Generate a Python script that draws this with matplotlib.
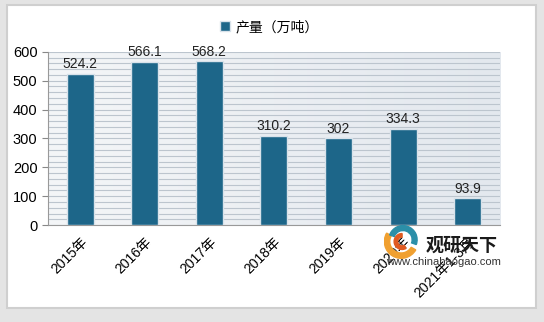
import matplotlib
matplotlib.use("Agg")
import matplotlib.pyplot as plt
from matplotlib.patches import Rectangle, Wedge
from matplotlib.ticker import MultipleLocator
import numpy as np

plt.rcParams['font.family'] = ['Liberation Sans', 'Noto Sans CJK SC', 'DejaVu Sans']

years = ['2015年', '2016年', '2017年', '2018年', '2019年', '2020年', '2021年1-3月']
output = [524.2, 566.1, 568.2, 310.2, 302, 334.3, 93.9]
series_name = '产量（万吨）'

bar_color = '#1d6689'

fig = plt.figure(figsize=(5.44, 3.22), dpi=100)
fig.patch.set_facecolor('#e4e4e4')

# white card with soft border
fig.patches.append(Rectangle((0.012, 0.045), 0.974, 0.94, transform=fig.transFigure,
                             facecolor='white', edgecolor='#cfcfcf', linewidth=1.5, zorder=-1))

ax = fig.add_axes([0.088, 0.301, 0.831, 0.538])
ax.set_zorder(2)
ax.patch.set_alpha(0)

# light gradient background
grad = np.linspace(0, 1, 256).reshape(1, -1)
bg = matplotlib.colors.LinearSegmentedColormap.from_list('bg', ['#f4f6f8', '#e3e8ee'])
ax.imshow(grad, extent=[-0.5, 6.5, 0, 600], aspect='auto', cmap=bg, zorder=0)

x = np.arange(len(years))
bars = ax.bar(x, output, width=0.42, color=bar_color, edgecolor='#d8e2ea', linewidth=1.0, zorder=3,
              label=series_name)

for xi, v in zip(x, output):
    ax.text(xi, v + 8, f'{v:g}', ha='center', va='bottom', fontsize=10, color='#222222', zorder=4)

ax.set_xlim(-0.5, 6.5)
ax.set_ylim(0, 600)
ax.yaxis.set_major_locator(MultipleLocator(100))
ax.yaxis.set_minor_locator(MultipleLocator(20))
ax.grid(axis='y', which='both', color='#bcc5ce', linewidth=0.8, zorder=1)
ax.set_axisbelow(True)

ax.set_xticks(x)
ax.set_xticklabels(years, rotation=45, ha='right', rotation_mode='anchor', fontsize=10)
ax.tick_params(axis='x', length=0, pad=7)
ax.tick_params(axis='y', which='major', length=4, color='#888888', labelsize=10.5)
ax.tick_params(axis='y', which='minor', length=0)

for side in ['top', 'right']:
    ax.spines[side].set_visible(False)
ax.spines['left'].set_color('#999999')
ax.spines['bottom'].set_color('#999999')

ax.legend(loc='lower center', bbox_to_anchor=(0.49, 1.03), frameon=False, fontsize=10,
          handlelength=0.7, handleheight=0.7, handletextpad=0.4)

# watermark logo
lax = fig.add_axes([0.705, 0.195, 0.065, 0.11])
lax.set_zorder(6)
lax.set_xlim(-1, 1)
lax.set_ylim(-1, 1)
lax.set_aspect('equal')
lax.axis('off')
lax.add_patch(Wedge((0.0, 0.0), 0.95, 150, 330, width=0.3, color='#f0a030'))
lax.add_patch(Wedge((0.1, 0.1), 0.8, -20, 160, width=0.28, color='#2b8fa8'))
lax.add_patch(Wedge((0.05, 0.0), 0.45, 90, 300, width=0.2, color='#e05a20'))

wm1 = fig.text(0.848, 0.238, '观研天下', fontsize=13, fontweight='bold', color='#1a1a1a',
               family=['Noto Sans CJK SC'], ha='center', va='center')
wm2 = fig.text(0.816, 0.186, 'www.chinabaogao.com', fontsize=8, color='#333333', ha='center', va='center')
wm1.set_zorder(5)
wm2.set_zorder(5)

fig.savefig('out.png', dpi=100, facecolor=fig.get_facecolor())
